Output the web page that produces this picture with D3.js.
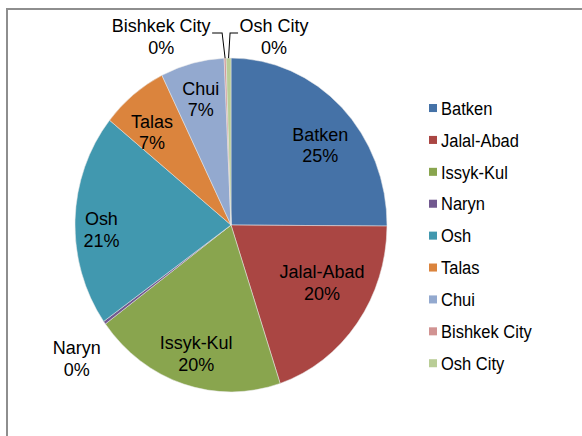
<!DOCTYPE html>
<html>
<head>
<meta charset="utf-8">
<script src="https://cdn.jsdelivr.net/npm/d3@7"></script>
<style>
  body { margin: 0; background: #fff; }
  text { font-family: "Liberation Sans", Arial, sans-serif; fill: #000; }
</style>
</head>
<body>
<script>
// regions and their share (%)
const regions = ['Batken', 'Jalal-Abad', 'Issyk-Kul', 'Naryn', 'Osh', 'Talas', 'Chui', 'Bishkek City', 'Osh City'];
const shares = [25.1, 19.8, 20.0, 0.3, 20.6, 6.9, 6.6, 0.2, 0.5];
const colors = ['#4572A7', '#AA4643', '#89A54E', '#71588F', '#4198AF', '#DB843D', '#93A9CF', '#D19392', '#B9CD96'];

const W = 582, H = 436;
const sy = 1.07;               // picture is slightly stretched vertically
const cx = 231, cy = 225 / sy, r = 156;

const svg = d3.select('body').append('svg')
  .attr('width', W)
  .attr('height', H);

// frame
svg.append('rect')
  .attr('x', 7).attr('y', 9)
  .attr('width', 700).attr('height', 600)
  .attr('fill', 'none')
  .attr('stroke', '#8e8e8e')
  .attr('stroke-width', 2);

const root = svg.append('g').attr('transform', `scale(1,${sy})`);

const data = regions.map((name, i) => ({ name, value: shares[i], color: colors[i] }));
const total = d3.sum(shares);

const pie = d3.pie().sort(null).value(d => d.value);
const arcs = pie(data);

const arc = d3.arc().innerRadius(0).outerRadius(r);
const labelArc = d3.arc().innerRadius(r * 0.78).outerRadius(r * 0.78);

// small best-fit style nudges for the inside labels
const nudge = {
  'Batken': [3, 11],
  'Jalal-Abad': [-7.5, -18],
  'Issyk-Kul': [2, 4],
  'Osh': [-8, 8],
  'Talas': [-3, 8]
};

const g = root.append('g').attr('transform', `translate(${cx},${cy})`);

g.selectAll('path')
  .data(arcs)
  .enter().append('path')
  .attr('d', arc)
  .attr('fill', d => d.data.color)
  .attr('stroke', '#e8e8e8')
  .attr('stroke-width', 0.5);

const pct = d => Math.round(d.data.value / total * 100) + '%';

function twoLines(sel, x, y, a, b, anchor) {
  const t = sel.append('text')
    .attr('text-anchor', anchor || 'middle')
    .attr('font-size', 18);
  t.append('tspan').attr('x', x).attr('y', y - 4).text(a);
  t.append('tspan').attr('x', x).attr('y', y + 16.2).text(b);
}

// labels
arcs.forEach(d => {
  const mid = (d.startAngle + d.endAngle) / 2;
  if (d.data.value >= 1) {
    const [x, y] = labelArc.centroid(d);
    const [nx, ny] = nudge[d.data.name] || [0, 0];
    twoLines(g, x + nx, y + ny, d.data.name, pct(d));
  } else if (d.data.name === 'Naryn') {
    const rr = r * 1.22;
    twoLines(g, Math.sin(mid) * rr, -Math.cos(mid) * rr + 13.6, d.data.name, pct(d));
  } else {
    // tiny slices at the top: labels above with leader lines
    const ex = Math.sin(mid) * r, ey = -Math.cos(mid) * r;
    const ly = 30.8 - cy;
    const left = d.data.name === 'Bishkek City';
    const hx = left ? ex - 3 : ex + 1.5;
    const tx = left ? hx - 10 : hx + 8;
    g.append('polyline')
      .attr('points', `${ex},${ey} ${hx},${ly} ${tx},${ly}`)
      .attr('fill', 'none')
      .attr('stroke', '#000')
      .attr('stroke-width', 1);
    const labelX = left ? tx - 51 : tx + 36;
    twoLines(g, labelX, ly + 3, d.data.name, pct(d));
  }
});

// legend
const legend = root.append('g').attr('transform', `translate(429,${108.3 / sy})`);
const rows = legend.selectAll('g')
  .data(data)
  .enter().append('g')
  .attr('transform', (d, i) => `translate(0,${i * 31.9 / sy})`);

rows.append('rect')
  .attr('x', 0).attr('y', -4)
  .attr('width', 8).attr('height', 7.5)
  .attr('fill', d => d.color);

rows.append('text')
  .attr('x', 12)
  .attr('y', 6)
  .attr('font-size', 16.5)
  .text(d => d.name);
</script>
</body>
</html>
